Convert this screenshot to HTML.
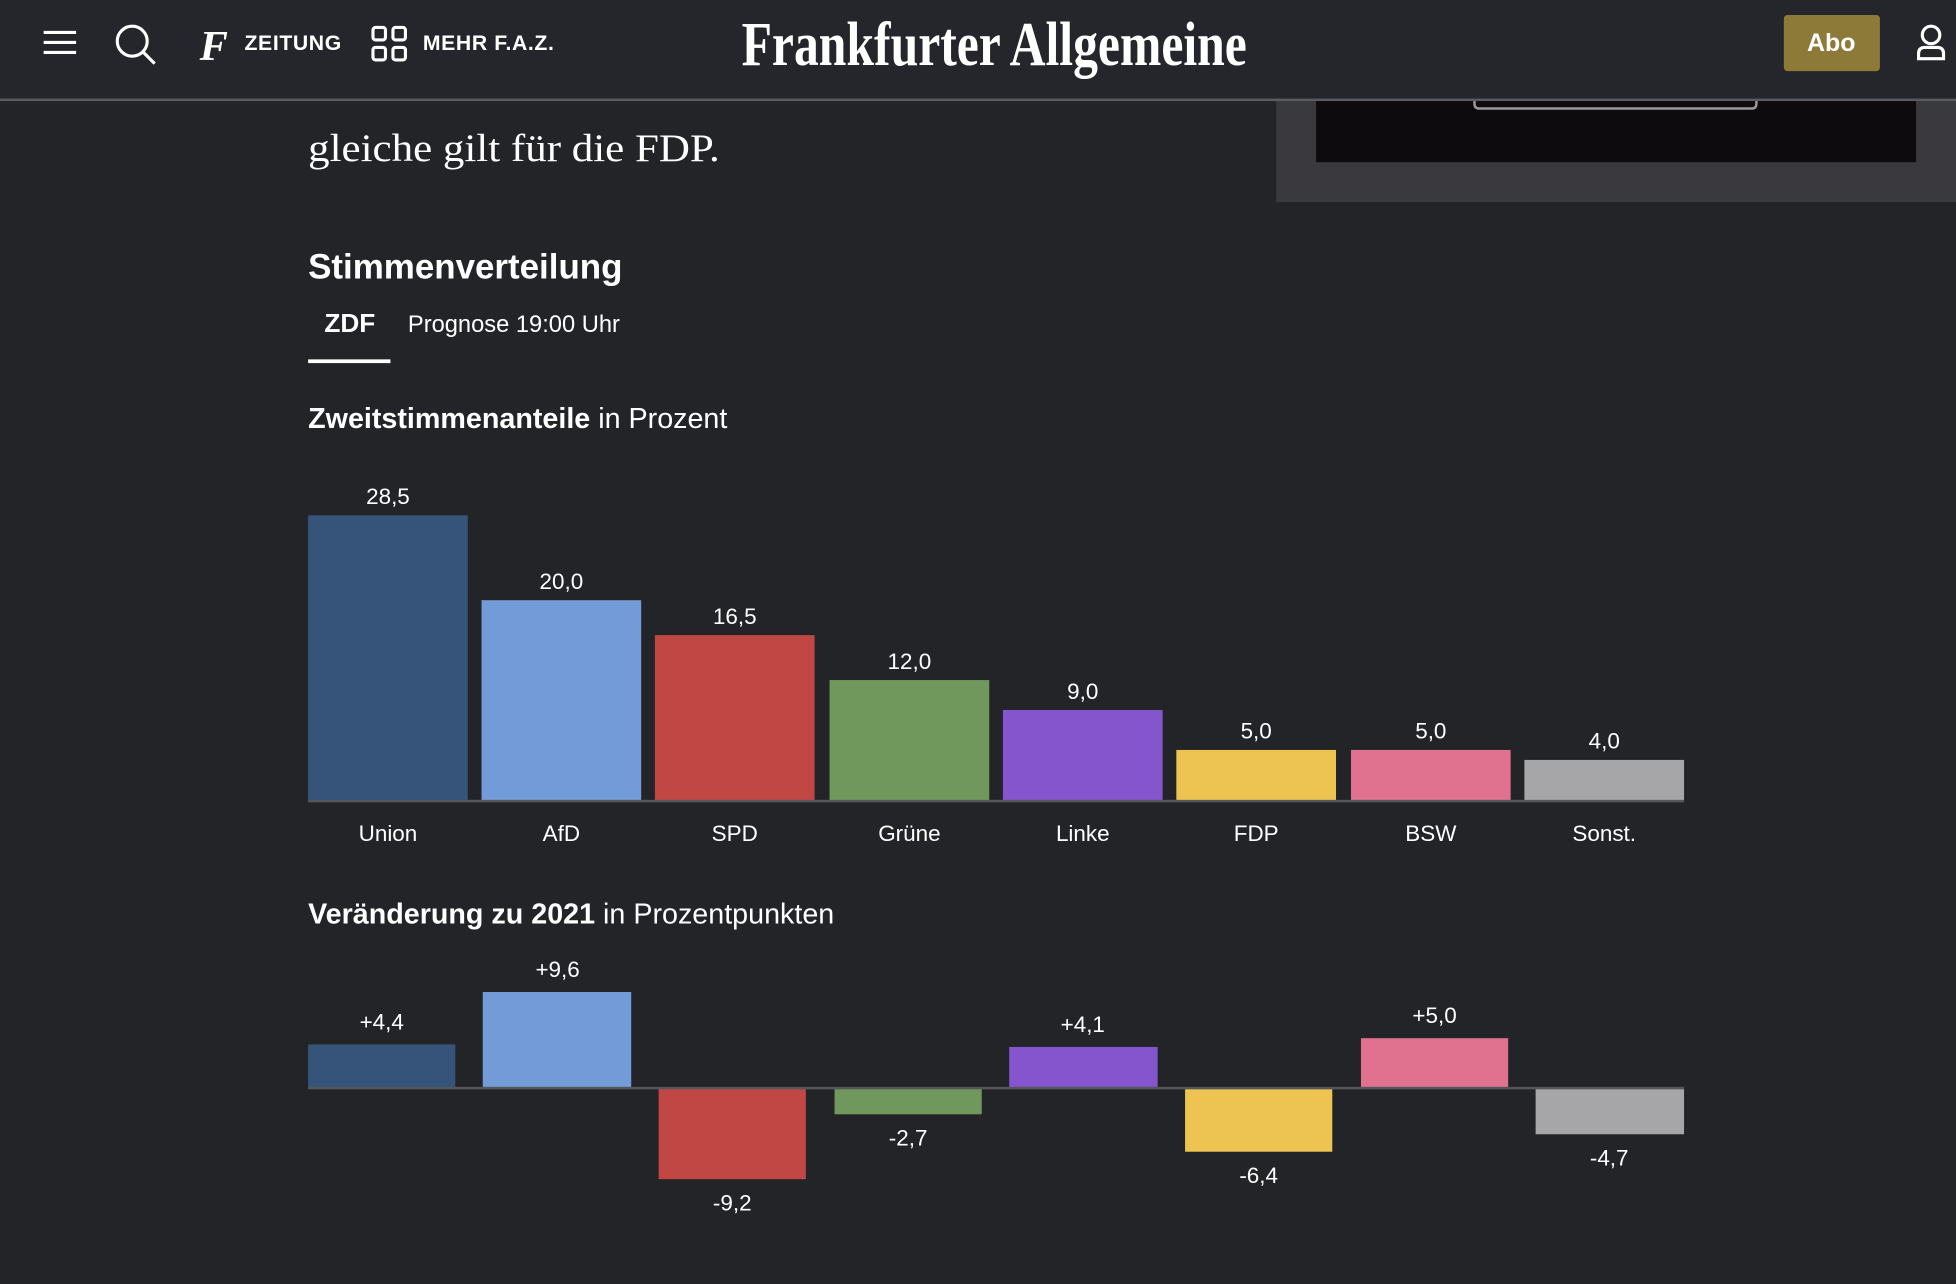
<!DOCTYPE html>
<html><head><meta charset="utf-8"><style>
html,body{margin:0;padding:0;background:#232428;overflow:hidden}
svg{display:block}
text{fill:#fff}
.s{font-family:"Liberation Sans",sans-serif}
.f{font-family:"Liberation Serif",serif}
</style></head><body>
<svg width="1956" height="1284" viewBox="0 0 1568 1029" preserveAspectRatio="none" xmlns="http://www.w3.org/2000/svg">
<rect width="1568" height="1029" fill="#232428"/>
<rect x="1023" y="80" width="545" height="82" fill="#3a393d"/>
<rect x="1055" y="80" width="481" height="50" fill="#0d0b0d"/>
<path d="M1182 80 v3 q0 4 4 4 h218 q4 0 4-4 v-3" fill="none" stroke="#999" stroke-width="2"/>
<rect x="0" y="0" width="1568" height="80" fill="#25262b"/>
<rect x="0" y="79" width="1568" height="2" fill="#5a5b5f"/>
<g stroke="#fff" stroke-width="2.5" fill="none">
<path d="M35 26h26M35 34h26M35 42h26"/>
<circle cx="106" cy="33" r="12"/><path d="M115 42l9 9"/>
<rect x="299" y="22" width="10" height="10" rx="2"/><rect x="315" y="22" width="10" height="10" rx="2"/>
<rect x="299" y="38" width="10" height="10" rx="2"/><rect x="315" y="38" width="10" height="10" rx="2"/>
<circle cx="1548" cy="28" r="7"/><path d="M1538 47v-4q0-5 5-5h10q5 0 5 5v4z"/>
</g>
<text class="f" x="160" y="48" font-size="34" font-style="italic" font-weight="bold">F</text>
<text class="s" x="196" y="40" font-size="17" font-weight="bold" letter-spacing="0.5">ZEITUNG</text>
<text class="s" x="339" y="40" font-size="17" font-weight="bold" letter-spacing="0.5">MEHR F.A.Z.</text>
<text class="f" x="797" y="52" font-size="50" font-weight="bold" text-anchor="middle" textLength="405" lengthAdjust="spacingAndGlyphs">Frankfurter Allgemeine</text>
<rect x="1430" y="12" width="77" height="45" rx="3" fill="#8d7a38"/>
<text class="s" x="1468" y="41" font-size="20" font-weight="bold" text-anchor="middle">Abo</text>
<text class="f" x="247" y="129" font-size="31" textLength="330" lengthAdjust="spacingAndGlyphs">gleiche gilt für die FDP.</text>
<g class="s">
<text x="247" y="223" font-size="28" font-weight="bold">Stimmenverteilung</text>
<text x="260" y="266" font-size="21" font-weight="bold">ZDF</text>
<text x="327" y="266" font-size="19">Prognose 19:00 Uhr</text>
<rect x="247" y="288" width="66" height="3" fill="#fff"/>
<text x="247" y="343" font-size="23"><tspan font-weight="bold">Zweitstimmenanteile</tspan> in Prozent</text>
<g font-size="18" text-anchor="middle">
<rect x="247" y="413" width="128" height="229" fill="#36537a"/><text x="311" y="404">28,5</text><text x="311" y="674">Union</text>
<rect x="386" y="481" width="128" height="161" fill="#729bd8"/><text x="450" y="472">20,0</text><text x="450" y="674">AfD</text>
<rect x="525" y="509" width="128" height="133" fill="#c04744"/><text x="589" y="500">16,5</text><text x="589" y="674">SPD</text>
<rect x="665" y="545" width="128" height="97" fill="#71985c"/><text x="729" y="536">12,0</text><text x="729" y="674">Grüne</text>
<rect x="804" y="569" width="128" height="73" fill="#8455cd"/><text x="868" y="560">9,0</text><text x="868" y="674">Linke</text>
<rect x="943" y="601" width="128" height="41" fill="#edc452"/><text x="1007" y="592">5,0</text><text x="1007" y="674">FDP</text>
<rect x="1083" y="601" width="128" height="41" fill="#e0728f"/><text x="1147" y="592">5,0</text><text x="1147" y="674">BSW</text>
<rect x="1222" y="609" width="128" height="33" fill="#a6a5a8"/><text x="1286" y="600">4,0</text><text x="1286" y="674">Sonst.</text>
</g>
<rect x="247" y="641" width="1103" height="2" fill="#55565b"/>
<text x="247" y="740" font-size="23"><tspan font-weight="bold">Veränderung zu 2021</tspan> in Prozentpunkten</text>
<g font-size="18" text-anchor="middle">
<rect x="247" y="837" width="118" height="35" fill="#36537a"/><text x="306" y="825">+4,4</text>
<rect x="387" y="795" width="119" height="77" fill="#729bd8"/><text x="447" y="783">+9,6</text>
<rect x="528" y="872" width="118" height="73" fill="#c04744"/><text x="587" y="970">-9,2</text>
<rect x="669" y="872" width="118" height="21" fill="#71985c"/><text x="728" y="918">-2,7</text>
<rect x="809" y="839" width="119" height="33" fill="#8455cd"/><text x="868" y="827">+4,1</text>
<rect x="950" y="872" width="118" height="51" fill="#edc452"/><text x="1009" y="948">-6,4</text>
<rect x="1091" y="832" width="118" height="40" fill="#e0728f"/><text x="1150" y="820">+5,0</text>
<rect x="1231" y="872" width="119" height="37" fill="#a6a5a8"/><text x="1290" y="934">-4,7</text>
</g>
<rect x="247" y="871" width="1103" height="2" fill="#55565b"/>
</g>
</svg>
</body></html>
